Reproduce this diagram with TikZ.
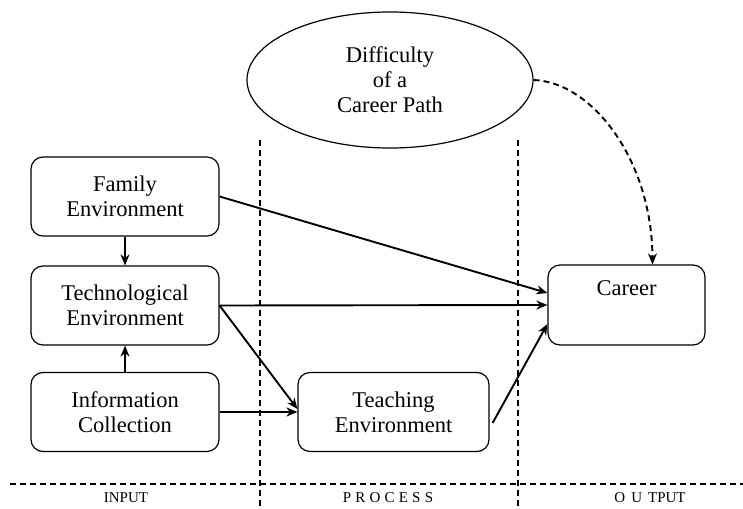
\documentclass[tikz,border=0pt]{standalone}
\usepackage{fontspec}
\setmainfont{Liberation Serif}
\usetikzlibrary{positioning,shapes.geometric,arrows.meta}

\begin{document}
\begin{tikzpicture}[x=1pt, y=-1pt,
  box/.style={draw, rounded corners=12pt, line width=1.2pt, minimum width=188pt,
    minimum height=79pt, align=center, font=\rmfamily\fontsize{22.5}{25}\selectfont},
  link/.style={-{Stealth[length=11pt,width=9pt]}, line width=1.9pt},
  divider/.style={line width=1.4pt, dash pattern=on 6pt off 4pt},
  zone/.style={font=\rmfamily\fontsize{15}{18}\selectfont}]
  \useasboundingbox (0,0) rectangle (743,508);

  % dividers
  \coordinate (L1) at (260,140);
  \coordinate (L2) at (260,508);
  \coordinate (R1) at (518,140);
  \coordinate (R2) at (518,508);
  \coordinate (H1) at (10,484);
  \coordinate (H2) at (743,484);
  \draw[divider] (L1) -- (L2);
  \draw[divider] (R1) -- (R2);
  \draw[divider] (H1) -- (H2);

  % boxes
  \node[box] (family) at (125,196.5) {Family\\Environment};
  \node[box] (tech)   at (125,305.5) {Technological\\Environment};
  \node[box] (info)   at (125,412)   {Information\\Collection};
  \node[box, minimum width=191pt] (teach) at (393.5,412) {Teaching\\Environment};
  \node[box, minimum width=157pt, minimum height=80pt] (career) at (626.5,305) {};
  \node[anchor=north, inner sep=0pt, font=\rmfamily\fontsize{22.5}{25}\selectfont]
    (careertxt) at ([yshift=-16pt]career.north) {Career};
  \node[draw, ellipse, line width=1.2pt, minimum width=286pt, minimum height=136pt,
    align=center, font=\rmfamily\fontsize{22.5}{25}\selectfont] (diff) at (390,80)
    {Difficulty\\of a\\Career Path};

  % arrows
  \draw[link] (family.south) -- (tech.north);
  \draw[link] (info.north) -- (tech.south);
  \draw[link] (family.east) -- ([yshift=12pt]career.west);
  \draw[link] (tech.east) -- (career.west);
  \draw[link] (tech.east) -- ([yshift=3pt]teach.west);
  \draw[link] (info.east) -- (teach.west);
  \draw[link] ([xshift=3pt,yshift=-11pt]teach.east) -- ([yshift=-19pt]career.west);
  \draw[link, dash pattern=on 6pt off 4pt] (diff.east)
    .. controls (592,82) and (652,160) .. ([xshift=26pt]career.north);

  % zones
  \node[zone] (input)   at (126,498) {INPUT};
  \node[zone] (process) at (388,498) {\addfontfeature{LetterSpace=28}PROCESS};
  \node[zone] (output)  at (650,498) {{\addfontfeature{LetterSpace=40}OUT}PUT};
\end{tikzpicture}
\end{document}
